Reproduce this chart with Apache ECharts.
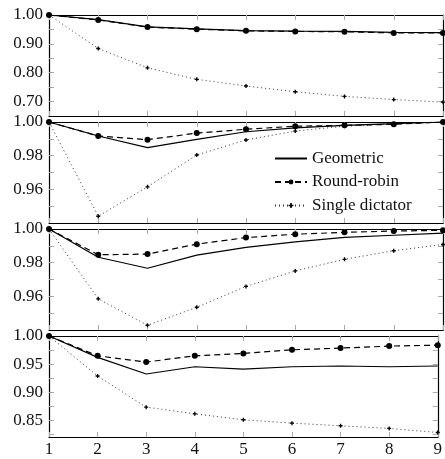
<!DOCTYPE html>
<html>
<head>
<meta charset="utf-8">
<script src="https://cdn.jsdelivr.net/npm/echarts@6/dist/echarts.min.js"></script>
<style>
  html, body { margin: 0; padding: 0; background: #fff; }
  #main { width: 445px; height: 459px; }
</style>
</head>
<body>
<div id="main"></div>
<script>
// x values shared by all four panels
var steps = [1, 2, 3, 4, 5, 6, 7, 8, 9];

// panel 1
var p1Geometric = [1.000, 0.984, 0.959, 0.952, 0.946, 0.944, 0.943, 0.940, 0.939];
var p1RoundRobin = [1.000, 0.983, 0.958, 0.951, 0.945, 0.943, 0.942, 0.938, 0.938];
var p1Single = [1.000, 0.884, 0.817, 0.777, 0.754, 0.734, 0.718, 0.707, 0.698];
// panel 2
var p2Geometric = [1.000, 0.9917, 0.9848, 0.9897, 0.9942, 0.9965, 0.9980, 0.9990, 1.000];
var p2RoundRobin = [1.000, 0.9917, 0.9895, 0.9934, 0.9957, 0.9975, 0.9980, 0.9986, 1.000];
var p2Single = [1.000, 0.9440, 0.9615, 0.9804, 0.9893, 0.9946, 0.9975, 0.9990, 1.000];
// panel 3
var p3Geometric = [1.000, 0.9832, 0.9767, 0.9845, 0.9891, 0.9924, 0.9950, 0.9963, 0.9976];
var p3RoundRobin = [1.000, 0.9847, 0.9851, 0.9910, 0.9949, 0.9969, 0.9980, 0.9988, 0.9992];
var p3Single = [1.000, 0.9585, 0.9428, 0.9535, 0.9659, 0.9751, 0.9820, 0.9871, 0.9908];
// panel 4
var p4Geometric = [1.000, 0.9619, 0.9323, 0.9452, 0.9411, 0.9452, 0.9465, 0.9452, 0.9465];
var p4RoundRobin = [1.000, 0.9647, 0.9535, 0.9647, 0.9690, 0.9754, 0.9784, 0.9820, 0.9837];
var p4Single = [1.000, 0.9287, 0.8732, 0.8613, 0.8507, 0.8447, 0.8400, 0.8353, 0.8280];

// y axis ranges, labels and ticks per panel
var yMins = [0.65, 0.94, 0.94, 0.82];
var yLabels = [
    [0.70, 0.80, 0.90, 1.00],
    [0.96, 0.98, 1.00],
    [0.96, 0.98, 1.00],
    [0.85, 0.90, 0.95, 1.00]
];
var yTicks = [
    [0.70, 0.75, 0.80, 0.85, 0.90, 0.95],
    [0.95, 0.96, 0.97, 0.98, 0.99],
    [0.95, 0.96, 0.97, 0.98, 0.99],
    [0.825, 0.85, 0.875, 0.90, 0.925, 0.95, 0.975]
];

var panels = [
    [p1Geometric, p1RoundRobin, p1Single],
    [p2Geometric, p2RoundRobin, p2Single],
    [p3Geometric, p3RoundRobin, p3Single],
    [p4Geometric, p4RoundRobin, p4Single]
];
var names = ['Geometric', 'Round-robin', 'Single dictator'];

var font = '"Liberation Serif", "Times New Roman", serif';
var gridTops = [15, 122, 229, 336];
var gridHeight = 101;

var chart = echarts.init(document.getElementById('main'));

var grids = [], xAxes = [], yAxes = [], series = [];

function pairs(arr) {
    return steps.map(function (x, i) { return [x, arr[i]]; });
}

var frameLine = { show: true, lineStyle: { color: '#000', width: 1.2 } };
var tickStyle = { show: true, inside: true, length: 5, lineStyle: { color: '#aaa', width: 1 } };
var labelFont = { color: '#111', fontFamily: font, fontSize: 17 };

for (var p = 0; p < 4; p++) {
    grids.push({ left: 49, right: 2, top: gridTops[p], height: gridHeight });

    // bottom and top x axes
    xAxes.push({
        type: 'value', gridIndex: p, min: 1, max: 9, interval: 1, position: 'bottom',
        axisLine: frameLine, axisTick: tickStyle, splitLine: { show: false },
        axisLabel: Object.assign({ show: p === 3, margin: 4 }, labelFont)
    });
    xAxes.push({
        type: 'value', gridIndex: p, min: 1, max: 9, interval: 1, position: 'top',
        axisLine: frameLine, axisTick: tickStyle, splitLine: { show: false },
        axisLabel: { show: false }
    });

    // left and right y axes
    yAxes.push({
        type: 'value', gridIndex: p, min: yMins[p], max: 1, position: 'left',
        axisLine: frameLine, splitLine: { show: false },
        axisTick: Object.assign({ customValues: yTicks[p] }, tickStyle),
        axisLabel: Object.assign({
            customValues: yLabels[p], margin: 6,
            formatter: function (v) { return Number(v).toFixed(2); }
        }, labelFont)
    });
    yAxes.push({
        type: 'value', gridIndex: p, min: yMins[p], max: 1, position: 'right',
        axisLine: frameLine, splitLine: { show: false },
        axisTick: Object.assign({ customValues: yTicks[p] }, tickStyle),
        axisLabel: { show: false }
    });

    var data = panels[p];
    series.push({
        name: names[0], type: 'line', xAxisIndex: p * 2, yAxisIndex: p * 2,
        data: pairs(data[0]), symbol: 'none', z: 4,
        lineStyle: { color: '#000', width: 1.2, type: 'solid' },
        itemStyle: { color: '#000' }
    });
    series.push({
        name: names[1], type: 'line', xAxisIndex: p * 2, yAxisIndex: p * 2,
        data: pairs(data[1]), symbol: 'circle', symbolSize: 6, z: 3,
        lineStyle: { color: '#000', width: 1.2, type: [6, 4] },
        itemStyle: { color: '#000' }
    });
    series.push({
        name: names[2], type: 'line', xAxisIndex: p * 2, yAxisIndex: p * 2,
        data: pairs(data[2]), z: 2,
        symbol: 'path://M-1,-3H1V-1H3V1H1V3H-1V1H-3V-1H-1Z', symbolSize: 4,
        lineStyle: { color: '#333', width: 1, type: [1, 3] },
        itemStyle: { color: '#000' }
    });
}

var option = {
    backgroundColor: '#fff',
    animation: false,
    textStyle: { fontFamily: font },
    grid: grids,
    xAxis: xAxes,
    yAxis: yAxes,
    legend: {
        data: [
            { name: names[0], itemStyle: { opacity: 0 } },
            { name: names[1] },
            { name: names[2] }
        ],
        orient: 'vertical',
        left: 269,
        top: 145,
        itemWidth: 32,
        itemHeight: 6,
        itemGap: 6.5,
        textStyle: { fontFamily: font, fontSize: 17, color: '#111' }
    },
    series: series
};

chart.setOption(option);
</script>
</body>
</html>
